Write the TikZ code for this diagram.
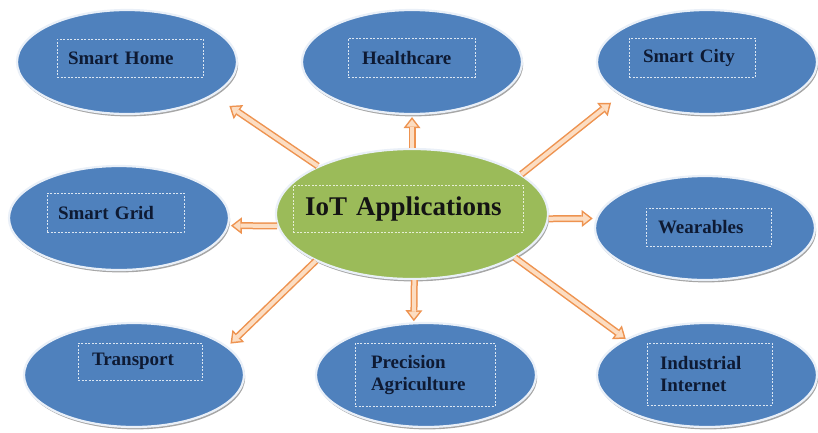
\documentclass[tikz,border=0pt]{standalone}
\usepackage{fontspec}
\setmainfont{Liberation Serif}
\usetikzlibrary{shapes.geometric,arrows.meta,shadows}
\definecolor{appblue}{HTML}{4F81BD}
\definecolor{iotgreen}{HTML}{9BBB59}
\definecolor{rimcol}{HTML}{EAF0F8}
\definecolor{dashcol}{HTML}{DCE6F2}
\definecolor{dashgreen}{HTML}{E6EED5}
\definecolor{navytext}{HTML}{0E1A33}
\definecolor{hubtext}{HTML}{141414}
\definecolor{arrowedge}{HTML}{EE9350}
\definecolor{arrowfill}{HTML}{FCDDC2}
\newcommand{\flowarrow}[3]{%
  \draw[connout, shorten >=#3] (#1) -- (#2);
  \draw[connin, shorten >=#3+2.5pt] (#1) -- (#2);}
\tikzset{
  appnode/.style={ellipse, fill=appblue, draw=rimcol, line width=2.2pt, inner sep=0pt,
    minimum width=220pt, minimum height=104pt,
    drop shadow={shadow xshift=1.2pt, shadow yshift=-2.4pt, opacity=0.35, fill=black}},
  hubnode/.style={appnode, fill=iotgreen, minimum width=272pt, minimum height=130pt},
  lbl/.style={draw=dashcol, dash pattern=on 2pt off 1.5pt, line width=0.7pt,
    font=\fontsize{19}{22}\selectfont\bfseries, text=navytext, align=left, inner ysep=0pt},
  hublbl/.style={lbl, draw=dashgreen, text=hubtext, font=\fontsize{27}{30}\selectfont\bfseries},
  connout/.style={draw=arrowedge, line width=7pt, -{Triangle[length=11pt,width=17pt,line width=0pt]}},
  connin/.style={draw=arrowfill, line width=4pt, -{Triangle[length=7pt,width=11pt,line width=0pt]}},
}
\begin{document}
\begin{tikzpicture}[x=1pt, y=-1pt]
  \fill[white] (0,0) rectangle (818,432);
  \useasboundingbox (0,0) rectangle (818,432);

  % ellipses
  \node[appnode] (home) at (127,62) {};
  \node[appnode] (health) at (412,62) {};
  \node[appnode] (city) at (707,62) {};
  \node[appnode] (grid) at (119,218) {};
  \node[hubnode] (iot) at (412,214) {};
  \node[appnode] (wear) at (705,228) {};
  \node[appnode] (transport) at (134,375) {};
  \node[appnode] (agri) at (426,375) {};
  \node[appnode] (ind) at (707,375) {};

  % labels
  \node[lbl, text width=124pt, inner xsep=11pt, minimum height=38pt] (homelbl) at (130,58) {Smart Home};
  \node[lbl, text width=99pt, inner xsep=14pt, minimum height=39pt] (healthlbl) at (411.5,57.5) {Healthcare};
  \node[lbl, text width=98pt, inner xsep=14pt, minimum height=39pt] (citylbl) at (692,57.5) {Smart City};
  \node[lbl, text width=115pt, inner xsep=11pt, minimum height=39pt] (gridlbl) at (115.5,212.5) {Smart Grid};
  \node[hublbl, text width=206pt, inner xsep=12pt, minimum height=47pt] (iotlbl) at (408,208.5) {IoT Applications};
  \node[lbl, text width=101pt, inner xsep=12pt, minimum height=38pt] (wearlbl) at (708.5,227) {Wearables};
  \node[lbl, text width=96pt, inner xsep=14pt, minimum height=37pt] (transportlbl) at (140,361.5) {Transport};
  \node[lbl, text width=108pt, inner xsep=16pt, minimum height=63pt] (agrilbl) at (425,374.5) {Precision\\Agriculture};
  \node[lbl, text width=99pt, inner xsep=13pt, minimum height=62pt] (indlbl) at (709.5,374) {Industrial\\Internet};

  % connectors
  \flowarrow{iot.153}{home.-21}{19pt}
  \flowarrow{iot.90}{health.-90}{2pt}
  \flowarrow{iot.20}{city.201}{12pt}
  \flowarrow{iot.185}{grid.-4}{2pt}
  \flowarrow{iot.-2}{wear.175}{3pt}
  \flowarrow{iot.206}{transport.17}{4pt}
  \flowarrow{iot.-88}{agri.103}{1pt}
  \flowarrow{iot.-23}{ind.156}{0pt}
\end{tikzpicture}
\end{document}
